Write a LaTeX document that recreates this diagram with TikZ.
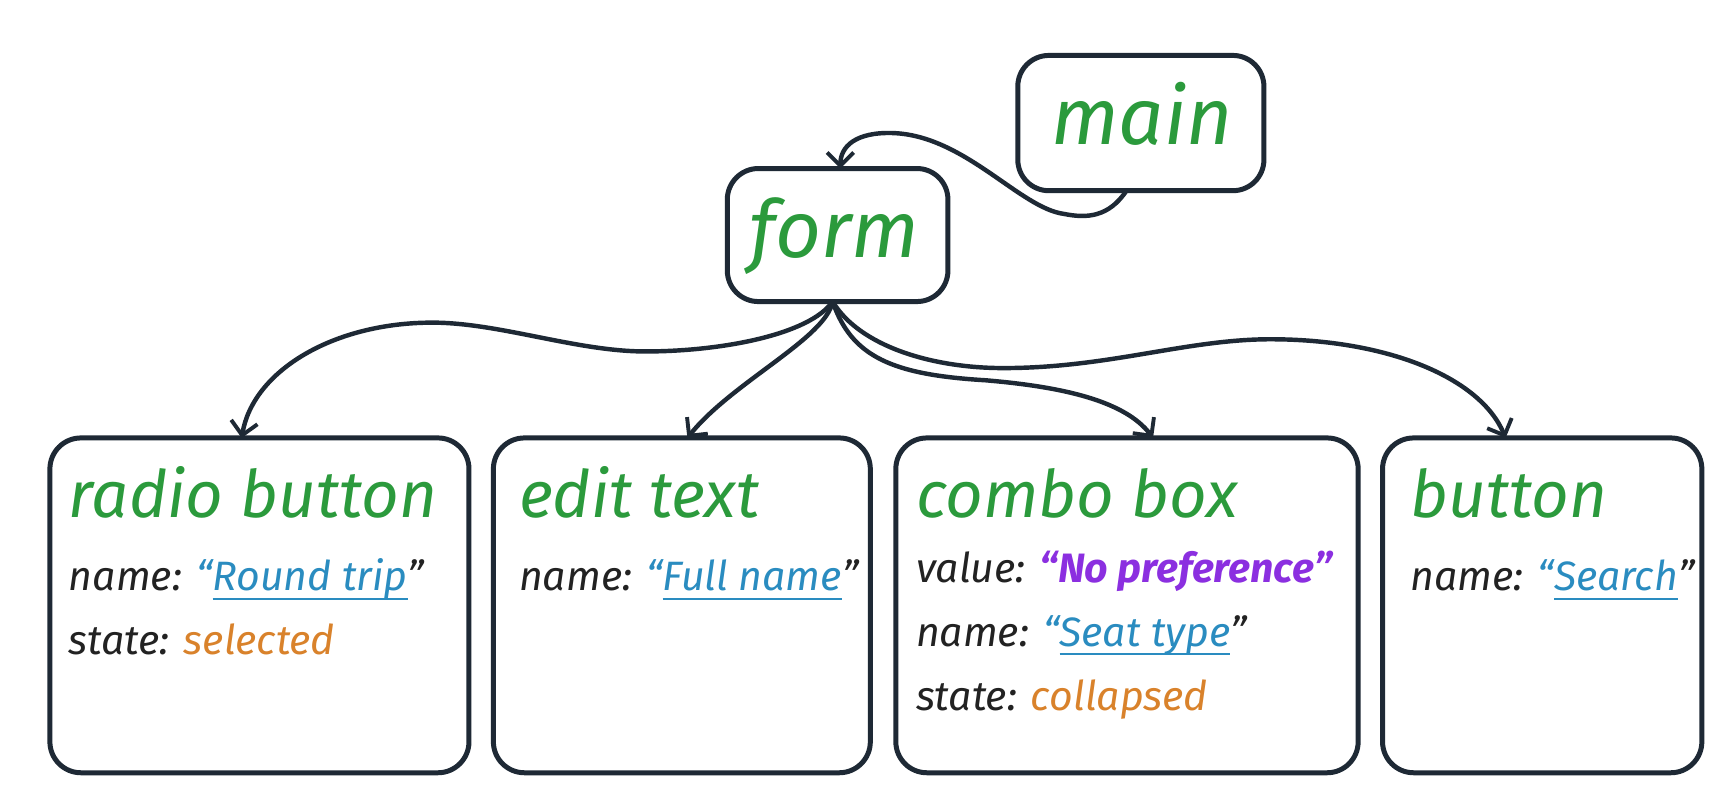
\documentclass[tikz,border=0pt]{standalone}
\usepackage{fontspec}
\setmainfont{Fira Sans}
\usetikzlibrary{arrows.meta}
\definecolor{ink}{HTML}{1E2935}
\definecolor{grn}{HTML}{2B9A3C}
\definecolor{blu}{HTML}{2A8CC0}
\definecolor{org}{HTML}{D9822B}
\definecolor{pur}{HTML}{8B2FE0}
\definecolor{txk}{HTML}{222222}
\tikzset{
  box/.style={draw=ink, line width=4.5pt, rounded corners=28pt, fill=white, inner sep=0pt},
  conn/.style={draw=ink, line width=4pt, line cap=round, -{Straight Barb[length=12pt,width=24pt,line width=3.5pt]}},
  bigtitle/.style={anchor=base west, inner sep=0pt, text=grn, font=\itshape\fontsize{72}{80}\selectfont},
  title/.style={anchor=base west, inner sep=0pt, text=grn, font=\itshape\fontsize{59}{66}\selectfont},
  prop/.style={anchor=base west, inner sep=0pt, text=txk, font=\itshape\fontsize{37}{44}\selectfont},
}
\newsavebox\ulbox
\newcommand\myuline[1]{\sbox\ulbox{#1}\rlap{\rule[-8pt]{\wd\ulbox}{1.8pt}}\usebox\ulbox}
\newcommand\bval[1]{\textcolor{blu}{“\myuline{#1}}”}
\begin{document}
\begin{tikzpicture}[x=1pt,y=-1pt]
\useasboundingbox (0,0) rectangle (1564,721.6);
\fill[white] (0,0) rectangle (1564,721.6);

% boxes
\node[box, minimum width=222pt, minimum height=122pt] (main) at (1029,111) {};
\node[box, minimum width=199pt, minimum height=120pt] (form) at (755.5,212) {};
\node[box, minimum width=378pt, minimum height=302pt] (radio) at (234,546) {};
\node[box, minimum width=340pt, minimum height=302pt] (edit) at (615,546) {};
\node[box, minimum width=417pt, minimum height=302pt] (combo) at (1016.5,546) {};
\node[box, minimum width=288pt, minimum height=302pt] (button) at (1391,546) {};

% texts
\node[bigtitle] (tmain) at (948,130) {main};
\node[bigtitle] (tform) at (676,232) {form};

\node[title] (tradio) at (62,467) {radio button};
\node[prop] (rname) at (62,533) {name: \bval{Round trip}};
\node[prop] (rstate) at (62,590) {state: \textcolor{org}{selected}};

\node[title] (tedit) at (468,467) {edit text};
\node[prop] (ename) at (468,533) {name: \bval{Full name}};

\node[title] (tcombo) at (826,467) {combo box};
\node[prop] (cvalue) at (826,525) {value: \textcolor{pur}{\bfseries “No preference”}};
\node[prop] (cname) at (826,583) {name: \bval{Seat type}};
\node[prop] (cstate) at (826,641) {state: \textcolor{org}{collapsed}};

\node[title] (tbutton) at (1272,467) {button};
\node[prop] (bname) at (1272,533) {name: \bval{Search}};

% connector anchors
\coordinate (mainOut) at (1016,172);
\coordinate (formIn) at (758,152);
\coordinate (hub) at (751,272);
\coordinate (radioIn) at (218,395);
\coordinate (editIn) at (620,395);
\coordinate (comboIn) at (1040,395);
\coordinate (buttonIn) at (1358,395);

% connectors
\draw[conn] (mainOut) .. controls (1000,196) and (980,197) .. (960,193)
  .. controls (920,188) and (870,122) .. (805,120)
  .. controls (772,119) and (758,132) .. (formIn);
\draw[conn] (hub) .. controls (730,302) and (650,317) .. (582,317)
  .. controls (520,317) and (450,291) .. (390,291)
  .. controls (300,291) and (228,335) .. (radioIn);
\draw[conn] (hub) .. controls (745,305) and (660,345) .. (editIn);
\draw[conn] (hub) .. controls (768,322) and (805,338) .. (889,343)
  .. controls (960,349) and (1015,362) .. (comboIn);
\draw[conn] (hub) .. controls (775,312) and (840,332) .. (905,332)
  .. controls (1000,332) and (1070,306) .. (1146,306)
  .. controls (1250,306) and (1335,340) .. (buttonIn);
\end{tikzpicture}
\end{document}
